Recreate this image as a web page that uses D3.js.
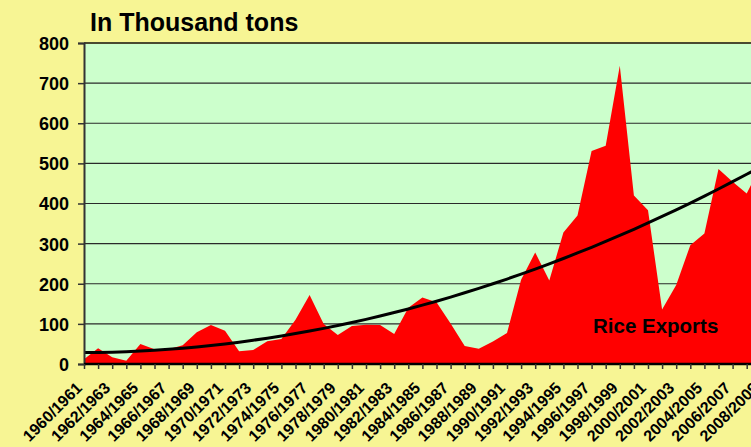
<!DOCTYPE html>
<html><head><meta charset="utf-8">
<script src="https://cdn.jsdelivr.net/npm/d3@7/dist/d3.min.js"></script>
<style>
html,body{margin:0;padding:0;background:#F7F594;}
svg{display:block;font-family:Arial,"Liberation Sans",sans-serif;}
</style></head>
<body><svg id="c" width="751" height="447"></svg>
<script>
const startYears = d3.range(1960, 2009);
const categories = startYears.map(y => y + "/" + (y + 1));
const riceExports = [12,39,17,8,50,37,37,47,79,97,83,32,35,57,62,110,172,100,72,95,98,
  97,75,140,166,154,101,45,38,56,77,210,278,208,328,370,531,544,743,420,383,136,197,296,325,486,454,425,495];
const yTicks = [0,100,200,300,400,500,600,700,800];
const titleText = "In Thousand tons";
const seriesLabel = "Rice Exports";

const svg = d3.select("#c");
const W = 751, H = 447;
const m = {left:84, top:43, bottom:364};
const step = 14.1;
const x = d3.scalePoint().domain(categories).range([m.left, m.left + step*(categories.length-1)]);
const y = d3.scaleLinear().domain([0,800]).range([m.bottom, m.top]);
const plotRight = m.left + step*(categories.length-1);

svg.append("rect").attr("width",W).attr("height",H).attr("fill","#F7F594");
svg.append("rect").attr("x",m.left).attr("y",m.top).attr("width",plotRight-m.left).attr("height",m.bottom-m.top).attr("fill","#CCFFCC");

// gridlines
svg.append("g").selectAll("line").data(yTicks.filter(d=>d>0 && d<800)).join("line")
  .attr("x1",m.left).attr("x2",plotRight).attr("y1",d=>y(d)).attr("y2",d=>y(d))
  .attr("stroke","#2a2a2a").attr("stroke-width",1.2);
svg.append("line").attr("x1",m.left).attr("x2",plotRight).attr("y1",m.top).attr("y2",m.top)
  .attr("stroke","#4a4a30").attr("stroke-width",2);

// area
const area = d3.area().x((d,i)=>x(categories[i])).y0(y(0)).y1(d=>y(d));
svg.append("path").datum(riceExports).attr("d",area).attr("fill","#FF0000");

// quadratic trendline (least squares)
function polyfit2(xs, ys){
  let n=xs.length, s=[0,0,0,0,0], t=[0,0,0];
  for(let k=0;k<n;k++){const a=xs[k],b=ys[k];
    s[0]+=1;s[1]+=a;s[2]+=a*a;s[3]+=a*a*a;s[4]+=a*a*a*a;t[0]+=b;t[1]+=a*b;t[2]+=a*a*b;}
  const M=[[s[0],s[1],s[2],t[0]],[s[1],s[2],s[3],t[1]],[s[2],s[3],s[4],t[2]]];
  for(let i=0;i<3;i++){for(let j=i+1;j<3;j++){const f=M[j][i]/M[i][i];for(let k=i;k<4;k++)M[j][k]-=f*M[i][k];}}
  const c=[0,0,0];for(let i=2;i>=0;i--){let v=M[i][3];for(let k=i+1;k<3;k++)v-=M[i][k]*c[k];c[i]=v/M[i][i];}
  return c;
}
const idx = riceExports.map((d,i)=>i);
const coef = polyfit2(idx, riceExports);
const trend = idx.map(i=>coef[0]+coef[1]*i+coef[2]*i*i);
svg.append("path").datum(trend)
  .attr("d", d3.line().x((d,i)=>x(categories[i])).y(d=>y(d)).curve(d3.curveMonotoneX))
  .attr("fill","none").attr("stroke","#000").attr("stroke-width",3);

// axes
const ya = svg.append("g").attr("transform",`translate(${m.left},0)`)
  .call(d3.axisLeft(y).tickValues(yTicks).tickSize(6).tickPadding(9).tickFormat(d3.format("d")));
ya.select(".domain").attr("stroke","#333").attr("stroke-width",2);
ya.selectAll(".tick line").attr("stroke","#333").attr("stroke-width",1.5);
ya.selectAll("text").attr("font-size",18).attr("font-weight","bold").attr("fill","#000")
  .attr("font-family","Arial,'Liberation Sans',sans-serif").attr("dy","0.36em");

const xa = svg.append("g").attr("transform",`translate(0,${m.bottom})`)
  .call(d3.axisBottom(x).tickSize(5).tickFormat(""));
xa.select(".domain").attr("stroke","#000").attr("stroke-width",2.5).attr("d",`M${m.left},0H${plotRight+20}`);
xa.selectAll(".tick line").attr("stroke","#333").attr("stroke-width",1.5);

svg.append("g").selectAll("text").data(categories.filter((d,i)=>i%2===0)).join("text")
  .attr("transform",d=>`translate(${x(d)-1},${389}) rotate(-45)`)
  .attr("text-anchor","end").attr("font-size",16).attr("font-weight","bold").attr("fill","#000")
  .text(d=>d);

svg.append("text").attr("x",90).attr("y",31).attr("font-size",25).attr("font-weight","bold").text(titleText);
svg.append("text").attr("x",593).attr("y",333).attr("font-size",20.5).attr("font-weight","bold").text(seriesLabel);
</script></body></html>
